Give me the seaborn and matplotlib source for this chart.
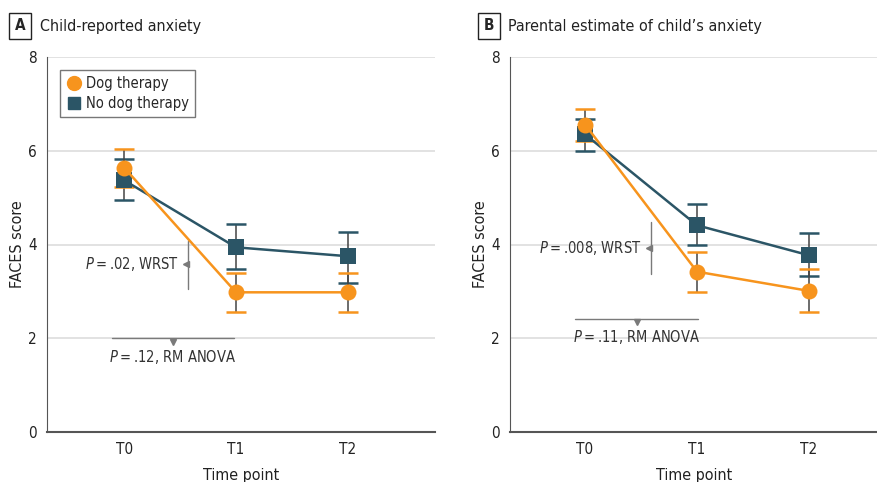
import numpy as np
import pandas as pd
import seaborn as sns
import matplotlib.pyplot as plt
from matplotlib.lines import Line2D

# Data
time_points = ['T0', 'T1', 'T2']
groups = ['Dog therapy', 'No dog therapy']

child_dog = [5.64, 2.98, 2.98]
child_dog_lo = [5.23, 2.55, 2.55]
child_dog_hi = [6.03, 3.40, 3.40]
child_nodog = [5.37, 3.94, 3.75]
child_nodog_lo = [4.95, 3.47, 3.18]
child_nodog_hi = [5.82, 4.43, 4.27]

parent_dog = [6.56, 3.42, 3.01]
parent_dog_lo = [6.20, 2.99, 2.55]
parent_dog_hi = [6.89, 3.84, 3.47]
parent_nodog = [6.35, 4.41, 3.77]
parent_nodog_lo = [5.99, 3.99, 3.33]
parent_nodog_hi = [6.67, 4.86, 4.25]

ORANGE = '#F7941D'
DARK = '#2B5566'
GRAY = '#7a7a7a'
TS = '\u2009'  # thin space

sns.set_style('white')
plt.rcParams['font.family'] = ['DejaVu Sans']
plt.rcParams['font.stretch'] = 'condensed'

fig = plt.figure(figsize=(8.78, 4.82), dpi=100)
ax1 = fig.add_axes([47 / 878, 1 - 432 / 482, 388 / 878, 375 / 482])
ax2 = fig.add_axes([510 / 878, 1 - 432 / 482, 368 / 878, 375 / 482])


def draw_panel(ax, dog, dog_lo, dog_hi, nodog, nodog_lo, nodog_hi, xlim):
    x = np.arange(len(time_points))
    df = pd.DataFrame({
        'x': np.concatenate([x, x]),
        'y': nodog + dog,
        'group': [groups[1]] * 3 + [groups[0]] * 3,
    })
    for vals, lo, hi, col in [(nodog, nodog_lo, nodog_hi, DARK), (dog, dog_lo, dog_hi, ORANGE)]:
        err = [np.array(vals) - np.array(lo), np.array(hi) - np.array(vals)]
        _, caps, bars = ax.errorbar(x, vals, yerr=err, fmt='none', ecolor='#444444',
                                    elinewidth=1.1, capsize=7, capthick=1.8, zorder=3)
        for c in caps:
            c.set_color(col)
            c.set_markeredgecolor(col)
    sns.lineplot(data=df, x='x', y='y', hue='group', style='group',
                 hue_order=[groups[1], groups[0]], style_order=[groups[1], groups[0]],
                 palette={groups[0]: ORANGE, groups[1]: DARK},
                 markers={groups[0]: 'o', groups[1]: 's'}, dashes=False,
                 markersize=11.5, markeredgewidth=0, linewidth=1.8, ax=ax,
                 legend=False, zorder=4)
    ax.set_xlim(*xlim)
    ax.set_ylim(0, 8)
    ax.set_yticks([0, 2, 4, 6, 8])
    ax.set_xticks(x)
    ax.set_xticklabels(time_points)
    for yv in [2, 4, 6, 8]:
        ax.axhline(yv, color='#dddddd', lw=1.2, zorder=0)
    for s in ['top', 'right']:
        ax.spines[s].set_visible(False)
    ax.spines['left'].set_color('#555555')
    ax.spines['bottom'].set_color('#555555')
    ax.spines['bottom'].set_linewidth(1.5)
    ax.tick_params(axis='both', direction='out', length=4, color='#555555',
                   labelsize=11, labelcolor='#222222', width=0.9)
    ax.tick_params(axis='x', pad=3)
    ax.set_xlabel('Time point', fontsize=11.5, color='#222222', labelpad=8)
    ax.set_ylabel('FACES score', fontsize=11.5, color='#222222', labelpad=2)


draw_panel(ax1, child_dog, child_dog_lo, child_dog_hi,
           child_nodog, child_nodog_lo, child_nodog_hi, (-0.69, 2.78))
draw_panel(ax2, parent_dog, parent_dog_lo, parent_dog_hi,
           parent_nodog, parent_nodog_lo, parent_nodog_hi, (-0.67, 2.616))


def annotate(ax, vx, vy0, vy1, ty, wtext, hx0, hx1, hy, htext, hty):
    ax.plot([vx, vx], [vy0, vy1], color=GRAY, lw=1.0, zorder=2)
    ax.plot([vx - 0.015], [ty], marker='<', color=GRAY, markersize=5, zorder=2)
    ax.text(vx - 0.08, ty, wtext, ha='right', va='center', fontsize=10.5, color='#333333')
    ax.plot([hx0, hx1], [hy, hy], color=GRAY, lw=1.0, zorder=2)
    hm = (hx0 + hx1) / 2
    ax.plot([hm], [hy - 0.07], marker='v', color=GRAY, markersize=5, zorder=2)
    ax.text(hm, hty, htext, ha='center', va='center', fontsize=10.5, color='#333333')


annotate(ax1, 0.57, 4.08, 3.05, 3.58, r'$\it{P}$' + TS + '=' + TS + '.02, WRST',
         -0.11, 0.985, 2.0, r'$\it{P}$' + TS + '=' + TS + '.12, RM ANOVA', 1.6)
annotate(ax2, 0.587, 4.48, 3.37, 3.93, r'$\it{P}$' + TS + '=' + TS + '.008, WRST',
         -0.09, 1.01, 2.42, r'$\it{P}$' + TS + '=' + TS + '.11, RM ANOVA', 2.03)

# Legend on panel A
handles = [Line2D([], [], ls='none', marker='o', color=ORANGE, markersize=10),
           Line2D([], [], ls='none', marker='s', color=DARK, markersize=9)]
leg = ax1.legend(handles, groups, loc='upper left', bbox_to_anchor=(0.034, 0.966),
                 borderaxespad=0, fontsize=10.5, frameon=True, fancybox=False,
                 handletextpad=0.3, handlelength=1.0, borderpad=0.45, labelspacing=0.3)
leg.get_frame().set_edgecolor('#555555')
leg.get_frame().set_linewidth(1.0)

# Panel headers
box = dict(boxstyle='square,pad=0.35', fc='white', ec='#222222', lw=1.0)
fig.text(20 / 878, 1 - 26 / 482, 'A', ha='center', va='center', fontsize=11,
         fontweight='bold', bbox=box)
fig.text(40 / 878, 1 - 26 / 482, 'Child-reported anxiety', ha='left', va='center',
         fontsize=11.5, color='#222222')
fig.text(489 / 878, 1 - 26 / 482, 'B', ha='center', va='center', fontsize=11,
         fontweight='bold', bbox=box)
fig.text(508 / 878, 1 - 26 / 482, 'Parental estimate of child\u2019s anxiety', ha='left',
         va='center', fontsize=11.5, color='#222222')

fig.savefig('out.png', dpi=100)
plt.close(fig)
